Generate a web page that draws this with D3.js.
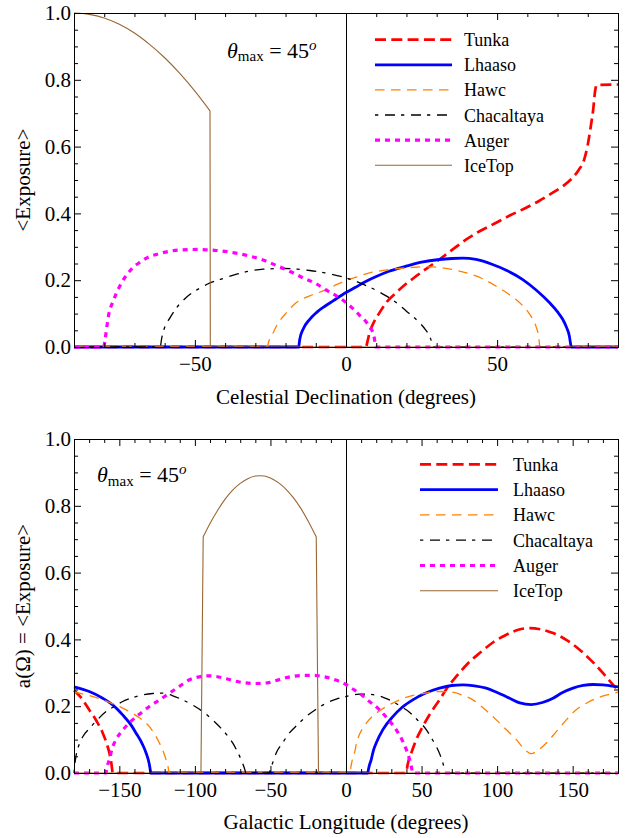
<!DOCTYPE html>
<html>
<head>
<meta charset="utf-8">
<script src="https://cdn.jsdelivr.net/npm/d3@7"></script>
<style>
  body { margin: 0; background: #fff; }
  svg { display: block; }
</style>
</head>
<body>
<svg id="chart" width="641" height="838"></svg>
<script>
// ---- Series names (legend order = drawing order) ----
const seriesNames = ["Tunka", "Lhaaso", "Hawc", "Chacaltaya", "Auger", "IceTop"];

// ---- Exposure vs celestial declination: [declination (deg), <Exposure>] ----
const decTunka = [[-90,0],[6.7,0],[7.2,0.02],[7.8,0.043],[9,0.07],[11.1,0.103],[13.5,0.135],[16.6,0.163],[20,0.19],[23.2,0.212],[27,0.237],[30.9,0.262],[35,0.29],[39.8,0.322],[44.5,0.348],[49.7,0.372],[54.5,0.395],[59.6,0.417],[64,0.438],[68.4,0.462],[72,0.483],[75,0.507],[77,0.53],[78.8,0.561],[79.9,0.601],[81,0.661],[81.8,0.711],[82.4,0.765],[82.8,0.784],[84,0.785],[90,0.786]];
const decLhaaso = [[-90,0],[-15.6,0],[-15.3,0.023],[-14.2,0.053],[-12,0.083],[-9.8,0.103],[-7,0.122],[-4.3,0.138],[0,0.163],[3,0.178],[6.7,0.197],[10,0.211],[14,0.226],[19.9,0.242],[25,0.254],[30.9,0.262],[35,0.265],[38.6,0.266],[43,0.262],[48.5,0.247],[53,0.23],[58.5,0.202],[63,0.17],[67.3,0.133],[70,0.105],[71.7,0.083],[73,0.058],[73.9,0.033],[74.3,0.01],[74.5,0],[90,0]];
const decHawc = [[-90,0],[-26,0],[-25.6,0.015],[-24.6,0.033],[-23,0.063],[-19.7,0.103],[-16.4,0.133],[-12,0.153],[-7.6,0.168],[-4,0.183],[0,0.199],[4,0.211],[7.8,0.222],[13,0.23],[19.9,0.237],[25,0.24],[28.7,0.24],[34,0.234],[39.8,0.222],[45,0.205],[49.7,0.182],[54,0.157],[57.4,0.133],[60,0.108],[61.8,0.083],[63,0.058],[63.7,0.033],[64,0.01],[64.1,0],[90,0]];
const decChacaltaya = [[-90,0],[-61.4,0],[-61,0.025],[-60.2,0.053],[-58.2,0.088],[-56,0.118],[-53.5,0.143],[-51.6,0.158],[-48,0.178],[-45,0.192],[-40,0.207],[-36.2,0.218],[-32,0.227],[-27.4,0.233],[-20.8,0.235],[-16,0.233],[-12,0.229],[-7,0.222],[0,0.207],[5.6,0.188],[9.5,0.172],[13.3,0.153],[16.8,0.132],[19.9,0.108],[22.3,0.09],[24.3,0.073],[26.2,0.053],[27.6,0.033],[28.3,0.015],[28.6,0],[90,0]];
const decAuger = [[-90,0],[-80.1,0],[-79.7,0.023],[-78.6,0.093],[-77,0.138],[-74.2,0.193],[-70.9,0.234],[-68,0.255],[-65.9,0.267],[-62,0.279],[-58.2,0.287],[-54,0.291],[-49.4,0.292],[-46,0.291],[-42.8,0.289],[-37,0.282],[-31.8,0.272],[-27,0.259],[-23,0.244],[-18.5,0.226],[-14.2,0.207],[-10,0.19],[-6.5,0.17],[-3,0.152],[0,0.133],[2.5,0.113],[4.5,0.095],[6.7,0.075],[8,0.058],[8.9,0.043],[9.4,0.025],[9.8,0],[90,0]];
const decIceTop = [[-90,1],[-85,0.996],[-80,0.985],[-75,0.966],[-70,0.94],[-65,0.906],[-60,0.866],[-55,0.819],[-50,0.766],[-45,0.707],[-44.9,0],[90,0]];

// ---- Exposure vs galactic longitude: [longitude (deg), a(Omega)] ----
const lonTunka = [[-180,0.248],[-175,0.224],[-169.9,0.189],[-165,0.155],[-161,0.12],[-158.5,0.09],[-156.6,0.06],[-155.3,0.03],[-154.5,0],[40,0],[40.6,0.02],[41.6,0.04],[43.2,0.06],[46.5,0.1],[50.9,0.14],[56,0.18],[61.9,0.219],[67,0.255],[73,0.289],[80,0.325],[88.4,0.359],[97,0.39],[106.1,0.414],[114,0.429],[121.5,0.434],[129,0.43],[137,0.419],[146,0.398],[154.6,0.369],[162,0.338],[170.1,0.299],[175,0.273],[180,0.248]];
const lonLhaaso = [[-180,0.258],[-169.9,0.244],[-161,0.224],[-154.4,0.204],[-147.8,0.174],[-142.3,0.144],[-139,0.12],[-134.6,0.085],[-132.3,0.06],[-130.1,0.025],[-129.2,0],[14.4,0],[15.3,0.02],[16.7,0.04],[18,0.065],[20,0.09],[24.4,0.13],[31,0.169],[37,0.196],[44.2,0.219],[52,0.238],[61.9,0.254],[70,0.262],[77.4,0.264],[85,0.261],[92.8,0.254],[100,0.241],[108.3,0.224],[115,0.21],[122.6,0.205],[130,0.211],[137,0.224],[143,0.24],[150.2,0.254],[157,0.262],[163.4,0.265],[170,0.264],[175,0.261],[180,0.258]];
const lonHawc = [[-180,0.242],[-170,0.232],[-161,0.219],[-152,0.203],[-143.4,0.184],[-136,0.163],[-130.1,0.139],[-126.5,0.115],[-123.5,0.09],[-121,0.065],[-119.1,0.04],[-117.8,0.02],[-117.2,0],[2.6,0],[3.3,0.02],[4.5,0.045],[5.6,0.06],[7,0.09],[8.9,0.115],[12,0.14],[15,0.158],[20,0.179],[27,0.2],[35.4,0.219],[45,0.233],[55.3,0.241],[62,0.244],[68.5,0.243],[76,0.235],[84,0.219],[92,0.19],[99.5,0.159],[106,0.13],[112.7,0.1],[118,0.072],[122.6,0.058],[127,0.068],[132.6,0.09],[139,0.123],[145.8,0.159],[152,0.188],[159.1,0.209],[166,0.224],[172,0.233],[180,0.242]];
const lonChacaltaya = [[-180,0],[-179.6,0.02],[-178.7,0.05],[-177,0.08],[-174,0.11],[-169.9,0.133],[-165,0.157],[-158.8,0.184],[-153,0.2],[-147.8,0.214],[-141,0.226],[-134.6,0.234],[-128,0.238],[-121.3,0.239],[-115,0.232],[-108.1,0.219],[-101,0.202],[-94.8,0.184],[-89,0.162],[-83.8,0.139],[-79,0.115],[-75,0.09],[-72,0.065],[-69.4,0.04],[-67.5,0.018],[-66.3,0],[-50.7,0],[-49.3,0.02],[-47.8,0.04],[-46.2,0.06],[-42,0.09],[-37.4,0.12],[-32,0.145],[-26.4,0.169],[-20,0.19],[-13.1,0.209],[-6,0.222],[0,0.229],[4,0.233],[8.9,0.236],[14,0.236],[20,0.233],[25,0.226],[31,0.214],[36,0.2],[42,0.182],[47,0.16],[53.1,0.13],[56.5,0.105],[59.7,0.08],[62.2,0.055],[64.1,0.03],[65.3,0.01],[65.9,0],[180,0]];
const lonAuger = [[-180,0],[-158.8,0],[-158,0.02],[-156.6,0.04],[-155,0.07],[-152.2,0.1],[-148,0.127],[-143.4,0.15],[-137,0.175],[-130.1,0.199],[-123,0.22],[-116.9,0.239],[-110,0.26],[-103.6,0.279],[-97,0.288],[-92,0.291],[-86,0.289],[-80,0.283],[-74,0.276],[-67,0.27],[-59.5,0.268],[-52,0.27],[-46.2,0.277],[-40,0.285],[-34,0.29],[-27,0.292],[-20,0.292],[-15.4,0.289],[-10,0.283],[-4.3,0.274],[0,0.265],[4,0.253],[8.9,0.239],[15,0.216],[22.2,0.189],[28,0.16],[33.2,0.13],[37,0.1],[39.9,0.07],[41.8,0.045],[43.2,0.02],[44,0],[180,0]];
const lonIceTop = [[-180,0],[-96,0],[-94.5,0.707],[-90,0.747],[-85,0.786],[-80,0.82],[-75,0.847],[-70,0.867],[-65,0.881],[-60,0.889],[-57,0.89],[-54,0.889],[-50,0.883],[-45,0.87],[-40,0.851],[-35,0.825],[-30,0.793],[-25,0.754],[-19.7,0.707],[-18.2,0],[180,0]];

// ---- Axis ticks ----
const decMajorTicks = [-50, 0, 50];
const decMinorTicks = [-90,-80,-70,-60,-40,-30,-20,-10,10,20,30,40,60,70,80,90];
const lonMajorTicks = [-150, -100, -50, 0, 50, 100, 150];
const lonMinorTicks = [-180,-170,-160,-140,-130,-120,-110,-90,-80,-70,-60,-40,-30,-20,-10,10,20,30,40,60,70,80,90,110,120,130,140,160,170,180];
const yMajorTicks = [0, 0.2, 0.4, 0.6, 0.8, 1.0];
const yMinorTicks = [0.05,0.1,0.15,0.25,0.3,0.35,0.45,0.5,0.55,0.65,0.7,0.75,0.85,0.9,0.95];

// ---- Line styles per series ----
const lineStyles = [
  { color: "#ff0000", width: 2.7, dash: "11,5.3" },
  { color: "#0000ff", width: 2.8, dash: null },
  { color: "#ff8000", width: 1.3, dash: "9.5,6.5" },
  { color: "#000000", width: 1.3, dash: "3.3,6.7,10,6" },
  { color: "#ff00ff", width: 3.2, dash: "5,5" },
  { color: "#996633", width: 1.1, dash: null }
];

const SERIF = "'Liberation Serif', 'Times New Roman', Times, serif";
const svg = d3.select("#chart");

// Split a series at kinks (edges of zero plateaus and abrupt slope jumps),
// so smooth arcs are interpolated while corners stay sharp.
function splitAtKinks(data) {
  const pieces = [];
  let cur = [data[0]];
  for (let i = 1; i < data.length - 1; i++) {
    const a = data[i - 1], b = data[i], c = data[i + 1];
    const s0 = (b[1] - a[1]) / (b[0] - a[0]);
    const s1 = (c[1] - b[1]) / (c[0] - b[0]);
    cur.push(b);
    const plateauEdge = (s0 === 0) !== (s1 === 0);
    const big = Math.max(Math.abs(s0), Math.abs(s1));
    const small = Math.min(Math.abs(s0), Math.abs(s1));
    const jump = big > 0.03 && big > 20 * small;
    if (plateauEdge || jump) {
      pieces.push(cur);
      cur = [b];
    }
  }
  cur.push(data[data.length - 1]);
  pieces.push(cur);
  return pieces;
}

function drawPanel(p) {
  const g = svg.append("g");
  const x = d3.scaleLinear().domain(p.xDomain).range([74, 618]);
  const y = d3.scaleLinear().domain([0, 1]).range([p.bottom, p.top]);

  // vertical axis line at 0
  g.append("line")
    .attr("x1", x(0) + 0.5).attr("x2", x(0) + 0.5)
    .attr("y1", p.top).attr("y2", p.bottom)
    .attr("stroke", "#000").attr("stroke-width", 1);

  const smooth = d3.line().x(d => x(d[0])).y(d => y(d[1])).curve(d3.curveMonotoneX);
  const straight = d3.line().x(d => x(d[0])).y(d => y(d[1]));

  // one continuous path per series so the dash pattern runs on unbroken
  function seriesPath(data) {
    return splitAtKinks(data).map((piece, k) => {
      const d = piece.length > 2 ? smooth(piece) : straight(piece);
      return k === 0 ? d : d.replace(/^M[^A-Za-z]*/, "");
    }).join("");
  }

  p.series.forEach((data, i) => {
    const s = lineStyles[i];
    g.append("path")
      .attr("d", seriesPath(data))
      .attr("fill", "none")
      .attr("stroke", s.color)
      .attr("stroke-width", s.width)
      .attr("stroke-dasharray", s.dash)
      .attr("stroke-linejoin", "round");
  });

  const fmtX = d3.format("d");
  const fmtY = d3.format(".1f");

  function styleAxis(sel) {
    sel.selectAll("path, line").attr("stroke", "#000").attr("stroke-width", 1);
    sel.selectAll("text").attr("font-family", SERIF).attr("font-size", 21).attr("fill", "#000");
    sel.attr("font-family", null).attr("font-size", null);
  }

  // bottom axis
  g.append("g").attr("transform", `translate(0,${p.bottom})`)
    .call(d3.axisBottom(x).tickValues(p.minor).tickSize(-4).tickSizeOuter(0).tickFormat(""))
    .call(styleAxis);
  g.append("g").attr("transform", `translate(0,${p.bottom})`)
    .call(d3.axisBottom(x).tickValues(p.major).tickSize(-7).tickSizeOuter(0).tickPadding(9).tickFormat(fmtX))
    .call(styleAxis);
  // top axis
  g.append("g").attr("transform", `translate(0,${p.top})`)
    .call(d3.axisTop(x).tickValues(p.minor).tickSize(-4).tickSizeOuter(0).tickFormat(""))
    .call(styleAxis);
  g.append("g").attr("transform", `translate(0,${p.top})`)
    .call(d3.axisTop(x).tickValues(p.major).tickSize(-7).tickSizeOuter(0).tickFormat(""))
    .call(styleAxis);
  // left axis
  g.append("g").attr("transform", `translate(74,0)`)
    .call(d3.axisLeft(y).tickValues(yMinorTicks).tickSize(-4).tickSizeOuter(0).tickFormat(""))
    .call(styleAxis);
  g.append("g").attr("transform", `translate(74,0)`)
    .call(d3.axisLeft(y).tickValues(yMajorTicks).tickSize(-7).tickSizeOuter(0).tickPadding(3).tickFormat(fmtY))
    .call(styleAxis);
  // right axis
  g.append("g").attr("transform", `translate(618,0)`)
    .call(d3.axisRight(y).tickValues(yMinorTicks).tickSize(-4).tickSizeOuter(0).tickFormat(""))
    .call(styleAxis);
  g.append("g").attr("transform", `translate(618,0)`)
    .call(d3.axisRight(y).tickValues(yMajorTicks).tickSize(-7).tickSizeOuter(0).tickFormat(""))
    .call(styleAxis);

  // axis titles
  g.append("text")
    .attr("x", 346).attr("y", p.xTitleY)
    .attr("text-anchor", "middle")
    .attr("font-family", SERIF).attr("font-size", 21)
    .text(p.xTitle);
  g.append("text")
    .attr("transform", `translate(30,${(p.top + p.bottom) / 2}) rotate(-90)`)
    .attr("text-anchor", "middle")
    .attr("font-family", SERIF).attr("font-size", 21)
    .text(p.yTitle);

  // zenith cut label
  const t = g.append("text")
    .attr("x", p.thetaX).attr("y", p.thetaY)
    .attr("font-family", SERIF).attr("font-size", 22);
  t.append("tspan").attr("font-style", "italic").text("θ");
  t.append("tspan").attr("font-size", 15).attr("dy", 3.5).text("max");
  t.append("tspan").attr("dy", -3.5).text(" = 45");
  t.append("tspan").attr("font-size", 15).attr("font-style", "italic").attr("dy", -8).text("o");

  // legend
  seriesNames.forEach((name, i) => {
    const s = lineStyles[i];
    const ly = p.legendY + i * p.legendStep;
    g.append("line")
      .attr("x1", p.legendX1).attr("x2", p.legendX2)
      .attr("y1", ly).attr("y2", ly)
      .attr("stroke", s.color)
      .attr("stroke-width", s.width)
      .attr("stroke-dasharray", s.dash);
    g.append("text")
      .attr("x", p.legendTextX).attr("y", ly + 6.5)
      .attr("font-family", SERIF).attr("font-size", 18)
      .text(name);
  });
}

drawPanel({
  xDomain: [-90, 90], top: 13, bottom: 347,
  major: decMajorTicks, minor: decMinorTicks,
  series: [decTunka, decLhaaso, decHawc, decChacaltaya, decAuger, decIceTop],
  xTitle: "Celestial Declination (degrees)", xTitleY: 404,
  yTitle: "<Exposure>",
  thetaX: 227, thetaY: 57.5,
  legendX1: 375, legendX2: 452, legendTextX: 464, legendY: 39.7, legendStep: 25.1
});

drawPanel({
  xDomain: [-180, 180], top: 439, bottom: 773,
  major: lonMajorTicks, minor: lonMinorTicks,
  series: [lonTunka, lonLhaaso, lonHawc, lonChacaltaya, lonAuger, lonIceTop],
  xTitle: "Galactic Longitude (degrees)", xTitleY: 829,
  yTitle: "a(Ω) = <Exposure>",
  thetaX: 97, thetaY: 482,
  legendX1: 420, legendX2: 498, legendTextX: 513, legendY: 464.3, legendStep: 25.3
});
</script>
</body>
</html>
